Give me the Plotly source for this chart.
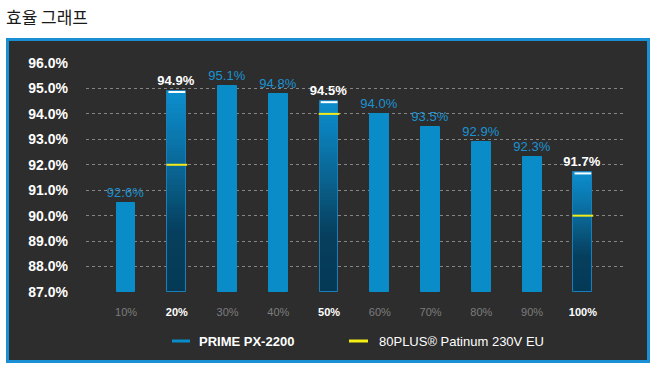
import plotly.graph_objects as go

# ---- data ----
categories = ["10%", "20%", "30%", "40%", "50%", "60%", "70%", "80%", "90%", "100%"]
prime_values = [90.5, 94.9, 95.1, 94.8, 94.5, 94.0, 93.5, 92.9, 92.3, 91.7]
prime_labels = ["92.6%", "94.9%", "95.1%", "94.8%", "94.5%", "94.0%", "93.5%", "92.9%", "92.3%", "91.7%"]
highlight = [False, True, False, False, True, False, False, False, False, True]
platinum_cats = ["20%", "50%", "100%"]
platinum_values = [92.0, 94.0, 90.0]
y_ticks = [87, 88, 89, 90, 91, 92, 93, 94, 95, 96]

# ---- style ----
BASE = 87.0
BAR_W = 0.37
BLUE = "#0a8cc9"
LABEL_BLUE = "#1b93d3"
PANEL = "#2d2d2d"
BORDER = "#1a8fd3"
FONT = "Liberation Sans, Arial, sans-serif"

# plot area in pixels (for paper-coordinate conversions of decorations)
L, R, T, B = 86, 32, 63, 77
W, H = 658, 369
PW, PH = W - L - R, H - T - B


def px(x):
    return (x - L) / PW


def py(y):
    return (H - B - y) / PH


stops = [(0.0, (5, 57, 86)), (0.3, (6, 63, 93)), (0.6, (10, 100, 145)),
         (0.85, (11, 128, 186)), (1.0, (12, 142, 205))]


def grad(f):
    for (f0, c0), (f1, c1) in zip(stops[:-1], stops[1:]):
        if f0 <= f <= f1:
            t = (f - f0) / (f1 - f0)
            c = [round(a + (b - a) * t) for a, b in zip(c0, c1)]
            return "rgb(%d,%d,%d)" % tuple(c)
    return "rgb(%d,%d,%d)" % stops[-1][1]


fig = go.Figure()

# gradient segments for highlighted bars
N = 60
gx, gy, gb, gc = [], [], [], []
for cat, v, h in zip(categories, prime_values, highlight):
    if not h:
        continue
    step = (v - BASE) / N
    for k in range(N):
        gx.append(cat)
        gb.append(BASE + k * step)
        gy.append(step * 1.02)
        gc.append(grad((k + 0.5) / N))
fig.add_trace(go.Bar(x=gx, y=gy, base=gb, width=BAR_W, marker=dict(color=gc, line=dict(width=0)),
                     hoverinfo="skip", showlegend=False))

# main bars (plain ones filled, highlighted ones transparent with outline) + labels
fill = ["rgba(0,0,0,0)" if h else BLUE for h in highlight]
outline = ["#1a7fb8" if h else BLUE for h in highlight]
tcol = ["white" if h else LABEL_BLUE for h in highlight]
fig.add_trace(go.Bar(
    x=categories, y=[v - BASE for v in prime_values], base=[BASE] * len(categories),
    width=BAR_W, marker=dict(color=fill, line=dict(color=outline, width=1)),
    text=["<b>%s</b>" % t if h else t for t, h in zip(prime_labels, highlight)],
    textposition="outside", constraintext="none", textfont=dict(color=tcol, size=13, family=FONT),
    cliponaxis=False, name="PRIME PX-2200", showlegend=False,
))

shapes = []
# white top lines on highlighted bars
for i, (v, h) in enumerate(zip(prime_values, highlight)):
    if h:
        shapes.append(dict(type="line", xref="x", yref="y", x0=i - BAR_W / 2 + 0.02, x1=i + BAR_W / 2 - 0.02,
                           y0=v - 0.04, y1=v - 0.04, line=dict(color="white", width=2), layer="above"))
# yellow 80PLUS reference lines
for cat, v in zip(platinum_cats, platinum_values):
    i = categories.index(cat)
    shapes.append(dict(type="line", xref="x", yref="y", x0=i - BAR_W / 2 - 0.02, x1=i + BAR_W / 2 + 0.02,
                       y0=v, y1=v, line=dict(color="#f2ea1a", width=2), layer="above"))

# panel with blue border
shapes.insert(0, dict(type="rect", xref="paper", yref="paper", x0=px(7.5), x1=px(648.5), y0=py(361.5), y1=py(39.5),
                      fillcolor=PANEL, line=dict(color=BORDER, width=3), layer="below"))

# manual legend marks
shapes.append(dict(type="line", xref="paper", yref="paper", x0=px(172), x1=px(190), y0=py(341), y1=py(341),
                   line=dict(color=BLUE, width=3)))
shapes.append(dict(type="line", xref="paper", yref="paper", x0=px(349), x1=px(368), y0=py(341), y1=py(341),
                   line=dict(color="#f5ee12", width=3)))

annotations = [
    dict(text="효율 그래프", xref="paper", yref="paper", x=px(4), y=py(16), xanchor="left", yanchor="middle",
         showarrow=False, font=dict(family="Noto Sans CJK KR", size=17, color="#1a1a1a")),
    dict(text="<b>PRIME PX-2200</b>", xref="paper", yref="paper", x=px(197), y=py(341), xanchor="left",
         yanchor="middle", showarrow=False, font=dict(family=FONT, size=13, color="white")),
    dict(text="80PLUS® Patinum 230V EU", xref="paper", yref="paper", x=px(377), y=py(341), xanchor="left",
         yanchor="middle", showarrow=False, font=dict(family=FONT, size=13, color="white")),
]

ticktext = ["<b><span style='color:white'>%s</span></b>" % c if h else
            "<span style='color:#7d7d7d'>%s</span>" % c for c, h in zip(categories, highlight)]

fig.update_layout(
    width=W, height=H, margin=dict(l=L, r=R, t=T, b=B, pad=0),
    paper_bgcolor="white", plot_bgcolor=PANEL, barmode="overlay", bargap=0,
    showlegend=False, shapes=shapes, annotations=annotations,
    font=dict(family=FONT),
    xaxis=dict(type="category", categoryorder="array", categoryarray=categories,
               tickmode="array", tickvals=categories, ticktext=ticktext,
               range=[-0.79, len(categories) - 1 + 0.85], showgrid=False, zeroline=False,
               showline=False, ticks="", ticklabelstandoff=12, tickfont=dict(size=11, family=FONT)),
    yaxis=dict(range=[y_ticks[0], y_ticks[-1]], tickmode="array", tickvals=y_ticks,
               ticktext=["<b>%.1f%%</b>" % t for t in y_ticks],
               showgrid=True, gridcolor="#858585", griddash="dot", gridwidth=1,
               zeroline=False, showline=False, ticks="", ticklabelstandoff=17,
               tickfont=dict(size=14, color="white", family=FONT)),
)

fig.write_html("out.html", config={"displayModeBar": False},
               post_script="document.body.style.margin='0';")
